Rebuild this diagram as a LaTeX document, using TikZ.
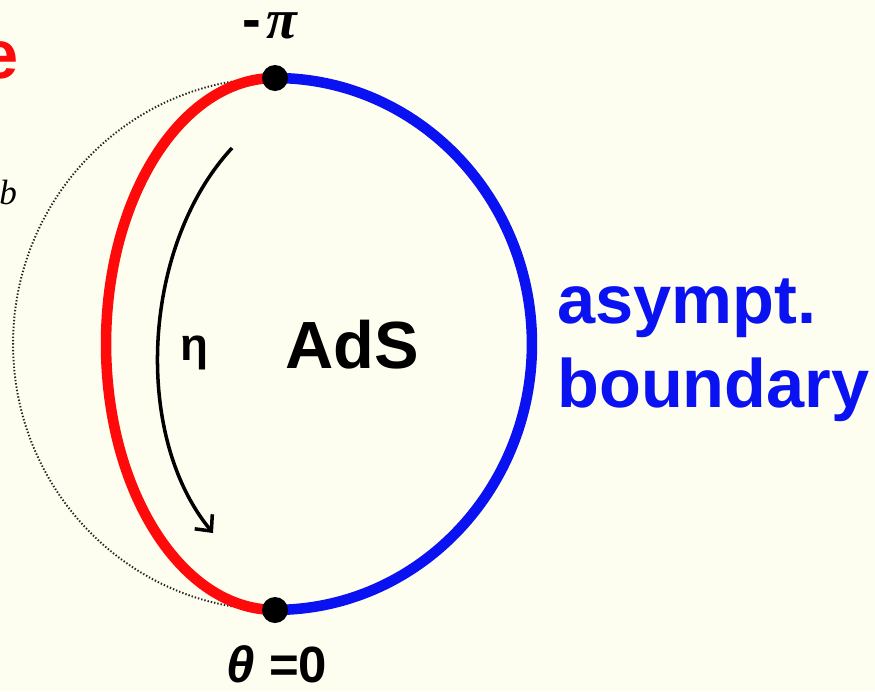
\documentclass[tikz,border=0pt]{standalone}
\usepackage{fontspec}
\setmainfont{Liberation Sans}
\newfontfamily\serifpi{Liberation Serif}
\usetikzlibrary{arrows.meta}
\definecolor{paper}{HTML}{FEFEF0}
\definecolor{bulkred}{HTML}{FF0A0A}
\definecolor{bdryblue}{HTML}{0A12F2}
\newcommand{\bigsans}{\fontsize{39}{46}\selectfont\bfseries}

\begin{document}
\begin{tikzpicture}[
  x=0.02cm,
  y=-0.02cm,
  every node/.style={inner sep=0pt, black},
  endpt/.style={circle, fill=black, minimum size=0.52cm},
  redarc/.style={bulkred, line width=6pt},
  bluearc/.style={bdryblue, line width=6pt},
  ghost/.style={black!85, line width=1.1pt, dash pattern=on 0.8pt off 1.1pt},
  flow/.style={black, line width=2pt,
               -{Straight Barb[length=7pt, width=13pt, line width=2pt]}}
]
  % ---- page -------------------------------------------------------------
  \fill[paper] (0,0) rectangle (875,691);
  \useasboundingbox (0,0) rectangle (875,691);
  \clip (0,0) rectangle (875,691);

  % ---- the two end points -------------------------------------------------
  \coordinate (top) at (275,78);
  \coordinate (bot) at (275,610);

  % ---- dotted half circle, red slice, blue boundary -------------------------
  \draw[ghost] (top) arc[start angle=90, end angle=270,
                          x radius=5.24cm, y radius=5.32cm];
  \draw[redarc] (top) arc[start angle=90, end angle=270,
                           x radius=3.38cm, y radius=5.32cm];
  \draw[bluearc] (top) arc[start angle=90, end angle=-90,
                            x radius=5.14cm, y radius=5.32cm];
  \node[endpt] (mpt) at (top) {};
  \node[endpt] (zpt) at (bot) {};

  % ---- eta arrow ------------------------------------------------------------
  \coordinate (etafrom) at (232,148);
  \coordinate (etato) at (213,533);
  \draw[flow] (etafrom) .. controls (142,245) and (132,435) .. (etato);

  % ---- labels ---------------------------------------------------------------
  \node[anchor=base] (mpilbl) at (270,38)
    {\fontsize{32}{38}\selectfont\bfseries -\kern3pt{\serifpi\itshape π}};
  \node[anchor=base] (thlbl) at (277,682)
    {\fontsize{29}{34}\selectfont\bfseries\itshape θ \upshape=0};
  \node[anchor=base] (etalbl) at (194,360)
    {\fontsize{26}{30}\selectfont\bfseries η};
  \node[anchor=base] (adslbl) at (352,368)
    {\fontsize{38}{46}\selectfont\bfseries AdS};
  \node[anchor=base west, bdryblue] (asymlbl) at (557,323) {\bigsans asympt.};
  \node[anchor=base west, bdryblue] (bdrylbl) at (557,407) {\bigsans boundary};

  % ---- cut off text at the left edge ----------------------------------------
  \node[anchor=base east, bulkred] (elbl) at (19,78) {\bigsans e};
  \node[anchor=base west] (blbl) at (-1,204)
    {\fontsize{20}{24}\selectfont\serifpi\itshape b};
\end{tikzpicture}
\end{document}
